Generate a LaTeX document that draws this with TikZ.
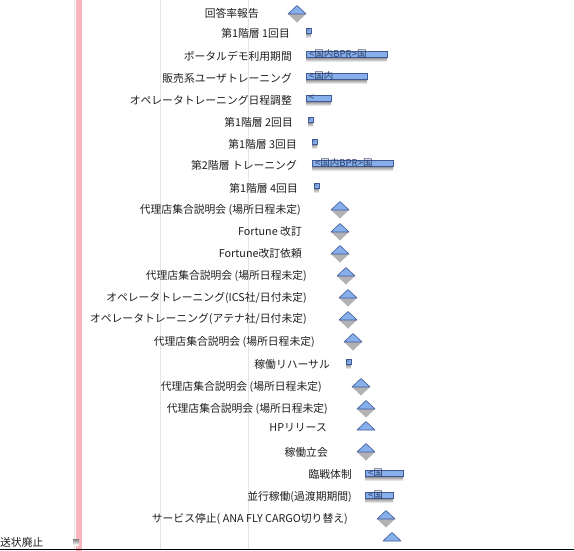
\documentclass[tikz,border=0pt]{standalone}
\usepackage{fontspec}
\newfontfamily\jp{Noto Sans CJK JP}
\usetikzlibrary{positioning}
\definecolor{msblue}{RGB}{135,175,235}
\definecolor{msline}{RGB}{65,90,150}
\definecolor{shade}{RGB}{178,178,180}
\definecolor{todayc}{RGB}{250,182,188}
\definecolor{gridc}{RGB}{228,228,228}
\definecolor{txtc}{RGB}{30,30,30}

\begin{document}
\begin{tikzpicture}[x=1pt,y=-1pt,
    lbl/.style={anchor=east,inner sep=0pt,text=txtc,font=\jp\fontsize{10.8}{12}\selectfont},
    bartxt/.style={anchor=west,inner sep=0pt,text=msline!70!black,font=\jp\fontsize{9.5}{10}\selectfont},
    msup/.style={fill=msblue,draw=msline,line width=0.6pt,line join=round},
    msdown/.style={fill=shade},
    barbox/.style={fill=msblue,draw=msline,line width=0.6pt}]
  \useasboundingbox (0,0) rectangle (574,551);
  % grid and today line
  \foreach \gx in {74,160,248}
    \draw[gridc,line width=0.8pt] (\gx,0) -- (\gx,549);
  \fill[todayc] (76,0) rectangle (82,551);
  \draw[shade,line width=1pt] (0,549.5) -- (574,549.5);

  % task names
  \node[lbl] (t1) at (259,13) {回答率報告};
  \node[lbl] (t2) at (290,33) {第1階層 1回目};
  \node[lbl] (t3) at (292,56) {ポータルデモ利用期間};
  \node[lbl] (t4) at (292,78) {販売系ユーザトレーニング};
  \node[lbl] (t5) at (292,100) {オペレータトレーニング日程調整};
  \node[lbl] (t6) at (293,122) {第1階層 2回目};
  \node[lbl] (t7) at (297,144) {第1階層 3回目};
  \node[lbl] (t8) at (297,165) {第2階層 トレーニング};
  \node[lbl] (t9) at (298,188) {第1階層 4回目};
  \node[lbl] (t10) at (301,210) {代理店集合説明会 (場所日程未定)};
  \node[lbl] (t11) at (302,231) {Fortune 改訂};
  \node[lbl] (t12) at (302,253) {Fortune改訂依頼};
  \node[lbl] (t13) at (307,276) {代理店集合説明会 (場所日程未定)};
  \node[lbl] (t14) at (307,298) {オペレータトレーニング(ICS社/日付未定)};
  \node[lbl] (t15) at (307,319) {オペレータトレーニング(アテナ社/日付未定)};
  \node[lbl] (t16) at (315,342) {代理店集合説明会 (場所日程未定)};
  \node[lbl] (t17) at (330,364) {稼働リハーサル};
  \node[lbl] (t18) at (322,387) {代理店集合説明会 (場所日程未定)};
  \node[lbl] (t19) at (328,409) {代理店集合説明会 (場所日程未定)};
  \node[lbl] (t20) at (327,428) {HPリリース};
  \node[lbl] (t21) at (328,452) {稼働立会};
  \node[lbl] (t22) at (352,474) {臨戦体制};
  \node[lbl] (t23) at (352,497) {並行稼働(過渡期期間)};
  \node[lbl] (t24) at (348,519) {サービス停止( ANA FLY CARGO切り替え)};
  \node[lbl,anchor=west] (t26) at (0,542) {送状廃止};

  % milestones
  \foreach \n/\x/\y in {1/297/14,10/340/210,11/340/232,12/340/254,13/346/276,
      14/348/298,15/348/320,16/353/342,18/361/387,19/366/409,21/366/452,24/386/519} {
    \coordinate (ms\n) at (\x,\y);
    \fill[msdown] (ms\n) ++(-9,0) -- ++(9,8.5) -- ++(9,-8.5) -- cycle;
    \draw[msup] (ms\n) ++(-9,0) -- ++(9,-8.5) -- ++(9,8.5) -- cycle;
  }
  \foreach \n/\x/\y in {20/366/430,25/392/541} {
    \coordinate (ms\n) at (\x,\y);
    \draw[msup] (ms\n) ++(-9,0) -- ++(9,-8.5) -- ++(9,8.5) -- cycle;
  }

  % short tasks
  \foreach \n/\x/\y in {2/306/33,6/308/122,7/312/144,9/314/188,17/346/364} {
    \coordinate (sq\n) at (\x,\y);
    \fill[shade] (sq\n) rectangle ++(5,5);
    \draw[barbox,line width=0.5pt] (sq\n) rectangle ++(5,-5);
    \node[inner sep=0pt,text=msline!60!black,font=\fontsize{4}{4}\selectfont] (sm\n) at (\x+2.5,\y-2.5) {<};
  }
  \fill[shade] (73,539) rectangle (79,545);

  % bars
  \foreach \n/\a/\b/\y/\t in {3/306/387/56/{<国内BPR>国},4/306/367/78/{<国内},5/306/331/100/{<},
      8/312/393/165/{<国内BPR>国},22/365/403/475/{<国},23/365/393/497/{<国}} {
    \coordinate (bs\n) at (\a,\y);
    \fill[shade] (\a,\y+1) rectangle (\b,\y+6);
    \draw[barbox] (\a,\y-5) rectangle (\b,\y+1);
    \node[bartxt] (bt\n) at (\a+3,\y-2) {\t};
  }
\end{tikzpicture}
\end{document}
